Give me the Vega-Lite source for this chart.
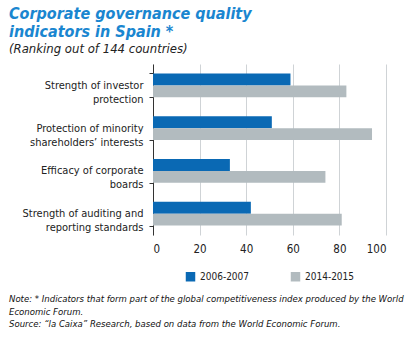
{
  "$schema": "https://vega.github.io/schema/vega-lite/v6.json",
  "padding": {"left": 9, "top": 6, "right": 5, "bottom": 0},
  "background": "white",
  "config": {"font": "DejaVu Sans Condensed", "view": {"stroke": null}, "legend": {"layout": {"bottom": {"anchor": "middle"}}}},
  "title": {
    "text": ["Corporate governance quality", "indicators in Spain *"],
    "subtitle": "(Ranking out of 144 countries)",
    "anchor": "start",
    "font": "DejaVu Sans Condensed",
    "fontSize": 16,
    "fontStyle": "italic",
    "fontWeight": "bold",
    "color": "#1a86d0",
    "lineHeight": 18,
    "subtitleFont": "DejaVu Sans Condensed",
    "subtitleFontSize": 13,
    "subtitleFontStyle": "italic",
    "subtitleColor": "#222222",
    "subtitlePadding": 3,
    "offset": 2
  },
  "datasets": {
    "bars": [
      {"indicator": "Strength of investor|protection", "period": "2006-2007", "rank": 59},
      {"indicator": "Strength of investor|protection", "period": "2014-2015", "rank": 83},
      {"indicator": "Protection of minority|shareholders’ interests", "period": "2006-2007", "rank": 51},
      {"indicator": "Protection of minority|shareholders’ interests", "period": "2014-2015", "rank": 94},
      {"indicator": "Efficacy of corporate|boards", "period": "2006-2007", "rank": 33},
      {"indicator": "Efficacy of corporate|boards", "period": "2014-2015", "rank": 74},
      {"indicator": "Strength of auditing and|reporting standards", "period": "2006-2007", "rank": 42},
      {"indicator": "Strength of auditing and|reporting standards", "period": "2014-2015", "rank": 81}
    ]
  },
  "vconcat": [
    {
      "title": {
        "text": ["Note: * Indicators that form part of the global competitiveness index produced by the World", "Economic Forum."],
        "subtitle": "Source: “la Caixa” Research, based on data from the World Economic Forum.",
        "orient": "bottom",
        "anchor": "start",
        "frame": "bounds",
        "font": "DejaVu Sans Condensed",
        "fontSize": 9.5,
        "fontStyle": "italic",
        "fontWeight": "normal",
        "color": "#111111",
        "lineHeight": 13,
        "subtitleFont": "DejaVu Sans Condensed",
        "subtitleFontSize": 9.5,
        "subtitleFontStyle": "italic",
        "subtitleColor": "#111111",
        "subtitlePadding": 2,
        "offset": 12
      },
      "resolve": {"legend": {"color": "independent"}},
      "vconcat": [
        {
          "width": 233,
          "height": 171,
          "data": {"name": "bars"},
          "mark": {"type": "bar"},
          "encoding": {
            "y": {
              "field": "indicator", "type": "nominal", "sort": null,
              "scale": {"paddingInner": 0.44, "paddingOuter": 0.22},
              "axis": {
                "title": null,
                "labelExpr": "split(datum.label, '|')",
                "tickBand": "extent",
                "domainColor": "#333333",
                "tickColor": "#333333",
                "tickSize": 4,
                "labelFontSize": 11,
                "labelColor": "#222222",
                "labelPadding": 6,
                "labelLineHeight": 14,
                "minExtent": 144
              }
            },
            "yOffset": {"field": "period", "type": "nominal", "sort": ["2006-2007", "2014-2015"], "scale": {"paddingInner": 0, "paddingOuter": 0}},
            "x": {
              "field": "rank", "type": "quantitative",
              "scale": {"domain": [0, 100]},
              "axis": {
                "title": null,
                "values": [0, 20, 40, 60, 80, 100],
                "domain": false,
                "ticks": false,
                "gridColor": "#cfd3d6",
                "labelFontSize": 11.5,
                "labelPadding": 8,
                "labelColor": "#222222"
              }
            },
            "color": {
              "field": "period", "type": "nominal",
              "scale": {"domain": ["2006-2007", "2014-2015"], "range": ["#0a69b4", "#b2bbbf"]},
              "legend": {
                "title": null,
                "orient": "bottom",
                "direction": "horizontal",
                "symbolType": "square",
                "symbolSize": 90,
                "symbolOpacity": 1,
                "labelFontSize": 10,
                "labelColor": "#222222",
                "columnPadding": 40,
                "offset": 16
              }
            }
          }
        }
      ]
    }
  ]
}
